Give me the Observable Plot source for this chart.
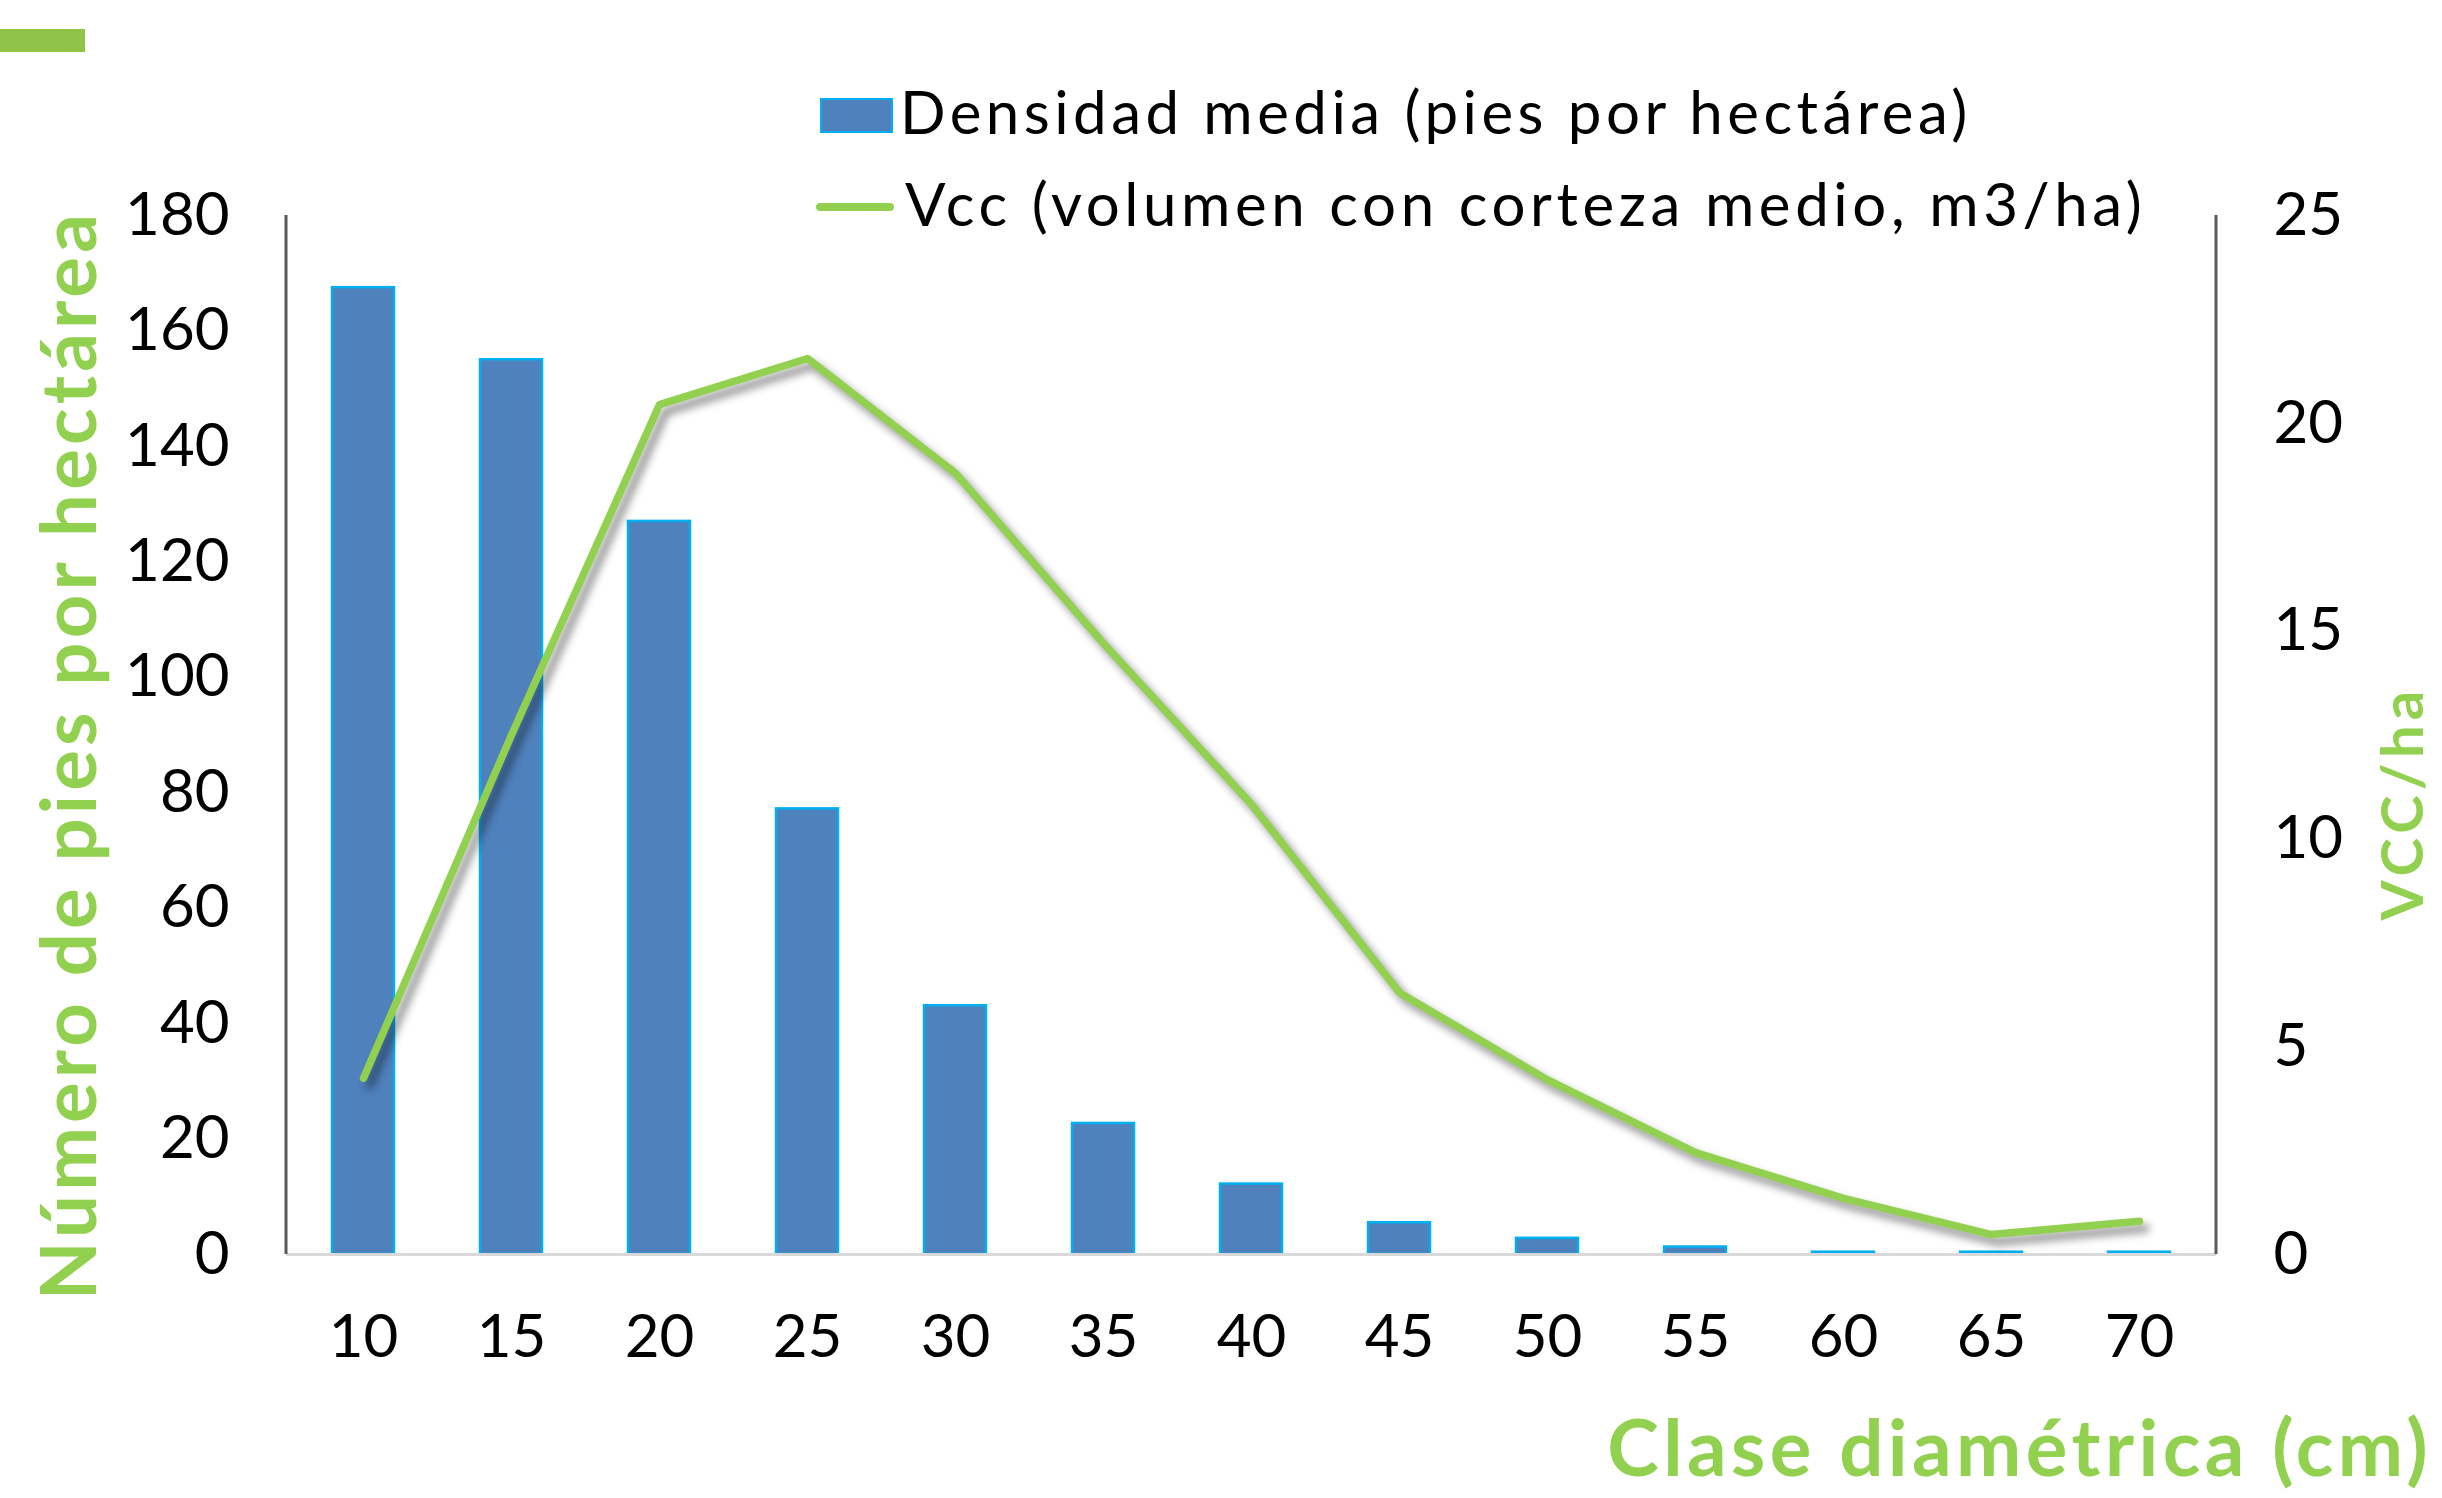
<!DOCTYPE html>
<html>
<head>
<meta charset="utf-8">
<script src="https://cdn.jsdelivr.net/npm/d3@7"></script>
<script src="https://cdn.jsdelivr.net/npm/@observablehq/plot@0.6"></script>
<style>
  html, body { margin: 0; padding: 0; background: #fff; }
  #wrap { position: relative; width: 2442px; height: 1498px; overflow: hidden; background: #fff; }
  #chart { position: absolute; left: 0; top: 0; }
  .ov { position: absolute; white-space: nowrap; line-height: 1; font-family: Lato, "Open Sans", sans-serif; }
  .title { font-weight: 700; color: #92d050; }
  .vert { writing-mode: vertical-rl; transform: translate(-50%,-50%) rotate(180deg); }
  .leg { font-size: 60px; color: #000; }
</style>
</head>
<body>
<div id="wrap">
  <div id="chart"></div>
  <div class="ov" style="left:0;top:29px;width:85px;height:23px;background:#8fc449;"></div>
  <div class="ov" style="left:820px;top:98px;width:69px;height:31px;background:#4f81bd;border:2px solid #00b0f0;"></div>
  <div class="ov leg" id="leg1" style="left:900px;top:81px;">Densidad media (pies por hectárea)</div>
  <div class="ov" style="left:816px;top:203px;width:78px;height:8px;background:#92d050;border-radius:4px;"></div>
  <div class="ov leg" id="leg2" style="left:905px;top:173px;">Vcc (volumen con corteza medio, m3/ha)</div>
  <div class="ov title vert" id="tLeft" style="left:67px;top:755px;font-size:76px;">Número de pies por hectárea</div>
  <div class="ov title vert" id="tRight" style="left:2401px;top:803px;font-size:58px;">VCC/ha</div>
  <div class="ov title" id="tBottom" style="right:10px;top:1407px;font-size:78px;">Clase diamétrica (cm)</div>
</div>
<script>
const clases = ["10","15","20","25","30","35","40","45","50","55","60","65","70"];
const densidad = [167.5, 155, 127, 77.2, 43.1, 22.7, 12.2, 5.5, 2.8, 1.3, 0.4, 0.4, 0.4];
const vcc = [4.24, 12.5, 20.45, 21.56, 18.8, 14.7, 10.83, 6.3, 4.2, 2.45, 1.35, 0.48, 0.8];
const yTicksLeft = [0, 20, 40, 60, 80, 100, 120, 140, 160, 180];
const yTicksRight = [0, 5, 10, 15, 20, 25];

const k = 180 / 25;
const data = clases.map((c, i) => ({clase: c, densidad: densidad[i], vcc: vcc[i]}));

function axisLines(index, scales, values, dimensions) {
  const {width, height, marginLeft, marginRight, marginTop, marginBottom} = dimensions;
  const ns = "http://www.w3.org/2000/svg";
  const g = document.createElementNS(ns, "g");
  for (const x of [marginLeft, width - marginRight]) {
    const l = document.createElementNS(ns, "line");
    l.setAttribute("x1", x); l.setAttribute("x2", x);
    l.setAttribute("y1", marginTop); l.setAttribute("y2", height - marginBottom);
    l.setAttribute("stroke", "#595959"); l.setAttribute("stroke-width", 3);
    g.appendChild(l);
  }
  return g;
}

const chart = Plot.plot({
  width: 2442,
  height: 1498,
  marginTop: 215,
  marginBottom: 244,
  marginLeft: 286,
  marginRight: 226,
  style: {fontFamily: "Lato, 'Open Sans', sans-serif", fontSize: "60px", background: "transparent", color: "#000", overflow: "visible"},
  x: {type: "band", domain: clases, paddingInner: 0.58, paddingOuter: 0.3},
  y: {domain: [0, 180]},
  marks: [
    Plot.axisY(yTicksLeft, {anchor: "left", tickSize: 0, tickPadding: 57, fontSize: 60, label: null}),
    Plot.axisY(yTicksRight.map(v => v * k), {anchor: "right", tickSize: 0, tickPadding: 57, fontSize: 60, label: null, tickFormat: d => String(Math.round(d / k))}),
    Plot.axisX({tickSize: 0, tickPadding: 60, fontSize: 60, label: null}),
    Plot.barY(data, {x: "clase", y: "densidad", fill: "#4f81bd", stroke: "#00b0f0", strokeWidth: 2.5}),
    Plot.ruleY([0], {stroke: "#d9d9d9", strokeWidth: 3}),
    axisLines,
    Plot.line(data, {x: "clase", y: d => d.vcc * k, stroke: "#92d050", strokeWidth: 7.5})
  ]
});
document.getElementById("chart").appendChild(chart);
const lineG = chart.querySelector('g[aria-label="line"]');
if (lineG) lineG.style.filter = "drop-shadow(6px 7px 4px rgba(0,0,0,0.45))";

function fit(id, target, vertical) {
  const el = document.getElementById(id);
  const n = el.textContent.length;
  const w = vertical ? el.offsetHeight : el.offsetWidth;
  el.style.letterSpacing = ((target - w) / n) + "px";
}
fit("leg1", 1072);
fit("leg2", 1241);
fit("tLeft", 1090, true);
fit("tRight", 235, true);
fit("tBottom", 825);
</script>
</body>
</html>
